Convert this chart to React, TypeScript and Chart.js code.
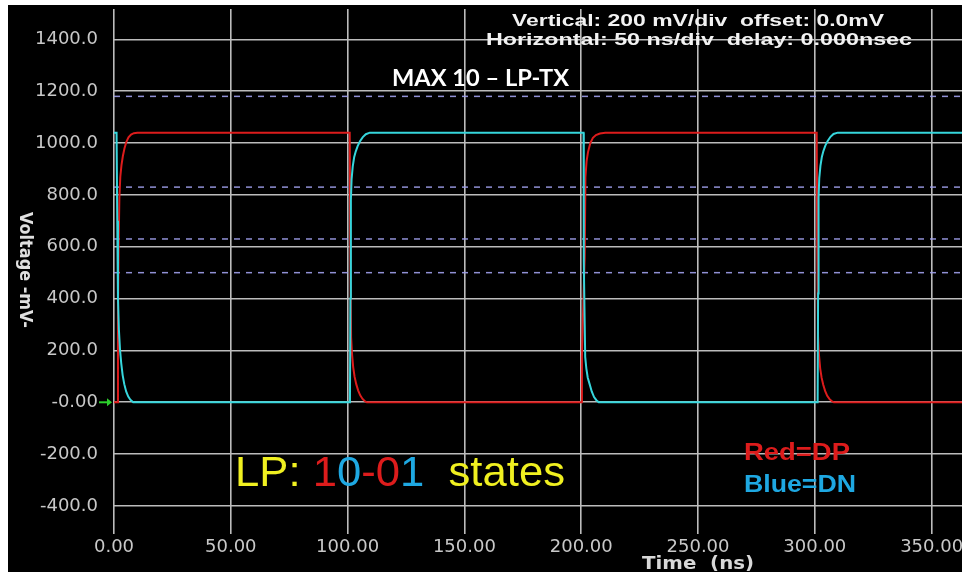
import React, { useEffect, useRef } from "react";
import { Chart, registerables } from "chart.js";

Chart.register(...registerables);

// ---- axis ticks ----
const xTicks = [0, 50, 100, 150, 200, 250, 300, 350];
const yTicks = [-400, -200, 0, 200, 400, 600, 800, 1000, 1200, 1400];
const xMin = 0;
const xMax = 363;
const yMin = -508;
const yMax = 1517;

// ---- dashed reference levels (mV) ----
const dashedLevels = [1180, 830, 630, 500];

// ---- DP (red) waveform: time (ns) / voltage (mV) ----
const dpTime = [
  0, 1.4, 1.7, 2.0, 2.3, 2.7, 3.2, 3.8, 4.5, 5.3, 6.2, 7.3, 8.5, 10,
  100.9, 101.1, 101.5, 101.9, 102.4, 103.0, 103.7, 104.5, 105.4, 106.4, 107.3, 108.2,
  200.2, 200.3, 201.0, 201.5, 201.8, 202.3, 202.9, 203.9, 205.0, 206.3, 208.0, 210.3,
  300.8, 301.0, 301.4, 301.8, 302.3, 302.9, 303.6, 304.4, 305.3, 306.3, 307.2, 308.1,
  363,
];
const dpVolt = [
  0, 0, 320, 620, 790, 870, 915, 950, 980, 1005, 1022, 1033, 1038, 1040,
  1040, 650, 250, 185, 135, 98, 70, 46, 27, 13, 5, 0,
  0, 175, 420, 560, 868, 930, 965, 1000, 1020, 1031, 1037, 1040,
  1040, 640, 255, 180, 130, 95, 68, 44, 25, 12, 5, 0,
  0,
];

// ---- DN (cyan) waveform: time (ns) / voltage (mV) ----
const dnTime = [
  0, 1.1, 1.4, 1.7, 2.1, 2.6, 3.1, 3.7, 4.4, 5.2, 6.1, 7.0, 8.2,
  101.0, 101.2, 101.4, 101.7, 102.2, 102.8, 103.5, 104.3, 105.3, 106.5, 107.8, 109.5,
  201.0, 201.1, 201.5, 201.7, 202.2, 202.8, 203.6, 204.5, 205.5, 206.5, 207.5,
  301.2, 301.4, 301.6, 301.9, 302.4, 303.0, 303.7, 304.5, 305.5, 306.7, 308.0, 309.8,
  363,
];
const dnVolt = [
  1040, 1040, 700, 400, 280, 200, 150, 105, 70, 42, 22, 10, 0,
  0, 400, 780, 860, 910, 945, 968, 988, 1007, 1023, 1034, 1040,
  1040, 540, 300, 175, 130, 95, 70, 42, 20, 8, 0,
  0, 420, 790, 865, 912, 946, 970, 990, 1008, 1024, 1035, 1040,
  1040,
];

// ---- colours ----
const RED = "#dd1c1c";
const CYAN = "#36d6dc";
const BLUE_TXT = "#1ea8e2";
const YELLOW = "#f0f020";
const GRID = "#bcbcbc";
const TICK = "#c8c8c8";

type Seg = { t: string; c: string };

function fitText(
  ctx: CanvasRenderingContext2D,
  segs: Seg[],
  x: number,
  y: number,
  width: number,
  font: string
) {
  ctx.font = font;
  const total = segs.reduce((s, g) => s + ctx.measureText(g.t).width, 0);
  const k = width / total;
  ctx.save();
  ctx.translate(x, y);
  ctx.scale(k, 1);
  ctx.textAlign = "left";
  ctx.textBaseline = "alphabetic";
  let cx = 0;
  for (const g of segs) {
    ctx.fillStyle = g.c;
    ctx.fillText(g.t, cx, 0);
    cx += ctx.measureText(g.t).width;
  }
  ctx.restore();
}

const bgPlugin = {
  id: "scopeBg",
  beforeDraw(chart: any) {
    const ctx = chart.ctx as CanvasRenderingContext2D;
    ctx.save();
    ctx.fillStyle = "#000";
    ctx.fillRect(0, 0, chart.width, chart.height);
    ctx.restore();
  },
};

const textPlugin = {
  id: "scopeText",
  afterDraw(chart: any) {
    const ctx = chart.ctx as CanvasRenderingContext2D;
    const xs = chart.scales.x;
    const ys = chart.scales.y;
    ctx.save();

    // header
    fitText(ctx, [{ t: "Vertical: 200 mV/div  offset: 0.0mV", c: "#f2f2f2" }], 504, 21, 372, "bold 17px 'Liberation Sans'");
    fitText(ctx, [{ t: "Horizontal: 50 ns/div  delay: 0.000nsec", c: "#f2f2f2" }], 478, 40, 426, "bold 17px 'Liberation Sans'");

    // title
    fitText(ctx, [{ t: "MAX 10 \u2013 LP-TX", c: "#ffffff" }], 384, 81, 177, "bold 22px Lato");

    // big LP annotation
    fitText(
      ctx,
      [
        { t: "LP: ", c: YELLOW },
        { t: "1", c: RED },
        { t: "0", c: BLUE_TXT },
        { t: "-", c: RED },
        { t: "0", c: RED },
        { t: "1", c: BLUE_TXT },
        { t: "  states", c: YELLOW },
      ],
      227,
      481,
      330,
      "43px 'Liberation Sans'"
    );

    // legend-like text
    fitText(ctx, [{ t: "Red=DP", c: RED }], 736, 455, 106, "bold 23px 'Liberation Sans'");
    fitText(ctx, [{ t: "Blue=DN", c: BLUE_TXT }], 736, 487, 112, "bold 23px 'Liberation Sans'");

    // x axis title centred at 250 ns
    const tx = xs.getPixelForValue(250);
    fitText(ctx, [{ t: "Time  (ns)", c: "#d8d8d8" }], tx - 56, 564, 112, "bold 18px 'DejaVu Sans'");

    // y axis title rotated
    ctx.save();
    ctx.translate(12, 265);
    ctx.rotate(Math.PI / 2);
    fitText(ctx, [{ t: "Voltage -mV-", c: "#e0e0e0" }], -58, 0, 116, "bold 17px 'DejaVu Sans'");
    ctx.restore();

    // green ground marker
    const y0 = ys.getPixelForValue(0);
    const left = chart.chartArea.left;
    ctx.strokeStyle = "#2ccf2c";
    ctx.fillStyle = "#2ccf2c";
    ctx.lineWidth = 2;
    ctx.beginPath();
    ctx.moveTo(left - 15, y0);
    ctx.lineTo(left - 5, y0);
    ctx.stroke();
    ctx.beginPath();
    ctx.moveTo(left - 2, y0);
    ctx.lineTo(left - 7, y0 - 4);
    ctx.lineTo(left - 7, y0 + 4);
    ctx.closePath();
    ctx.fill();

    ctx.restore();
  },
};

export default function App() {
  const ref = useRef<HTMLCanvasElement>(null);

  useEffect(() => {
    const canvas = ref.current;
    if (!canvas) return;

    const dashedSets = dashedLevels.map((lvl) => ({
      label: "level " + lvl,
      data: [
        { x: xMin, y: lvl },
        { x: xMax, y: lvl },
      ],
      borderColor: "rgba(160,160,235,0.9)",
      borderWidth: 1.5,
      borderDash: [6, 6],
      pointRadius: 0,
      order: 3,
    }));

    const chart = new Chart(canvas, {
      type: "line",
      data: {
        datasets: [
          {
            label: "DN",
            data: dnTime.map((t, i) => ({ x: t, y: dnVolt[i] })),
            borderColor: CYAN,
            borderWidth: 2,
            pointRadius: 0,
            tension: 0,
            order: 1,
          },
          {
            label: "DP",
            data: dpTime.map((t, i) => ({ x: t, y: dpVolt[i] })),
            borderColor: RED,
            borderWidth: 2,
            pointRadius: 0,
            tension: 0,
            order: 2,
          },
          ...dashedSets,
        ],
      },
      options: {
        responsive: false,
        animation: false,
        devicePixelRatio: 1,
        layout: { padding: { top: 4, left: 0, right: 0, bottom: 0 } },
        plugins: {
          legend: { display: false },
          tooltip: { enabled: false },
        },
        scales: {
          x: {
            type: "linear",
            min: xMin,
            max: xMax,
            position: "bottom",
            grid: { color: GRID, lineWidth: 1.6, drawTicks: false },
            border: { display: false },
            ticks: {
              color: TICK,
              font: { family: "'DejaVu Sans'", size: 18 },
              padding: 3,
              maxRotation: 0,
              autoSkip: false,
              callback: (v: any) => Number(v).toFixed(2),
            },
            afterBuildTicks: (s: any) => {
              s.ticks = xTicks.map((v) => ({ value: v }));
            },
            afterFit: (s: any) => {
              s.height = 38;
              s.paddingLeft = 0;
              s.paddingRight = 0;
              s.paddingTop = 0;
              s.paddingBottom = 0;
            },
          },
          y: {
            type: "linear",
            min: yMin,
            max: yMax,
            grid: { color: GRID, lineWidth: 1.6, drawTicks: false },
            border: { display: false },
            ticks: {
              color: TICK,
              font: { family: "'DejaVu Sans'", size: 18 },
              padding: 16,
              autoSkip: false,
              callback: (v: any) => (Number(v) === 0 ? "-0.00" : Number(v).toFixed(1)),
            },
            afterBuildTicks: (s: any) => {
              s.ticks = yTicks.map((v) => ({ value: v }));
            },
            afterFit: (s: any) => {
              s.width = 106;
              s.paddingLeft = 0;
              s.paddingRight = 0;
              s.paddingTop = 0;
              s.paddingBottom = 0;
            },
          },
        },
      },
      plugins: [bgPlugin, textPlugin],
    } as any);

    return () => chart.destroy();
  }, []);

  return (
    <div style={{ position: "absolute", left: 8, top: 5, width: 954, height: 567 }}>
      <canvas ref={ref} width={954} height={567} style={{ display: "block", width: 954, height: 567 }} />
    </div>
  );
}
